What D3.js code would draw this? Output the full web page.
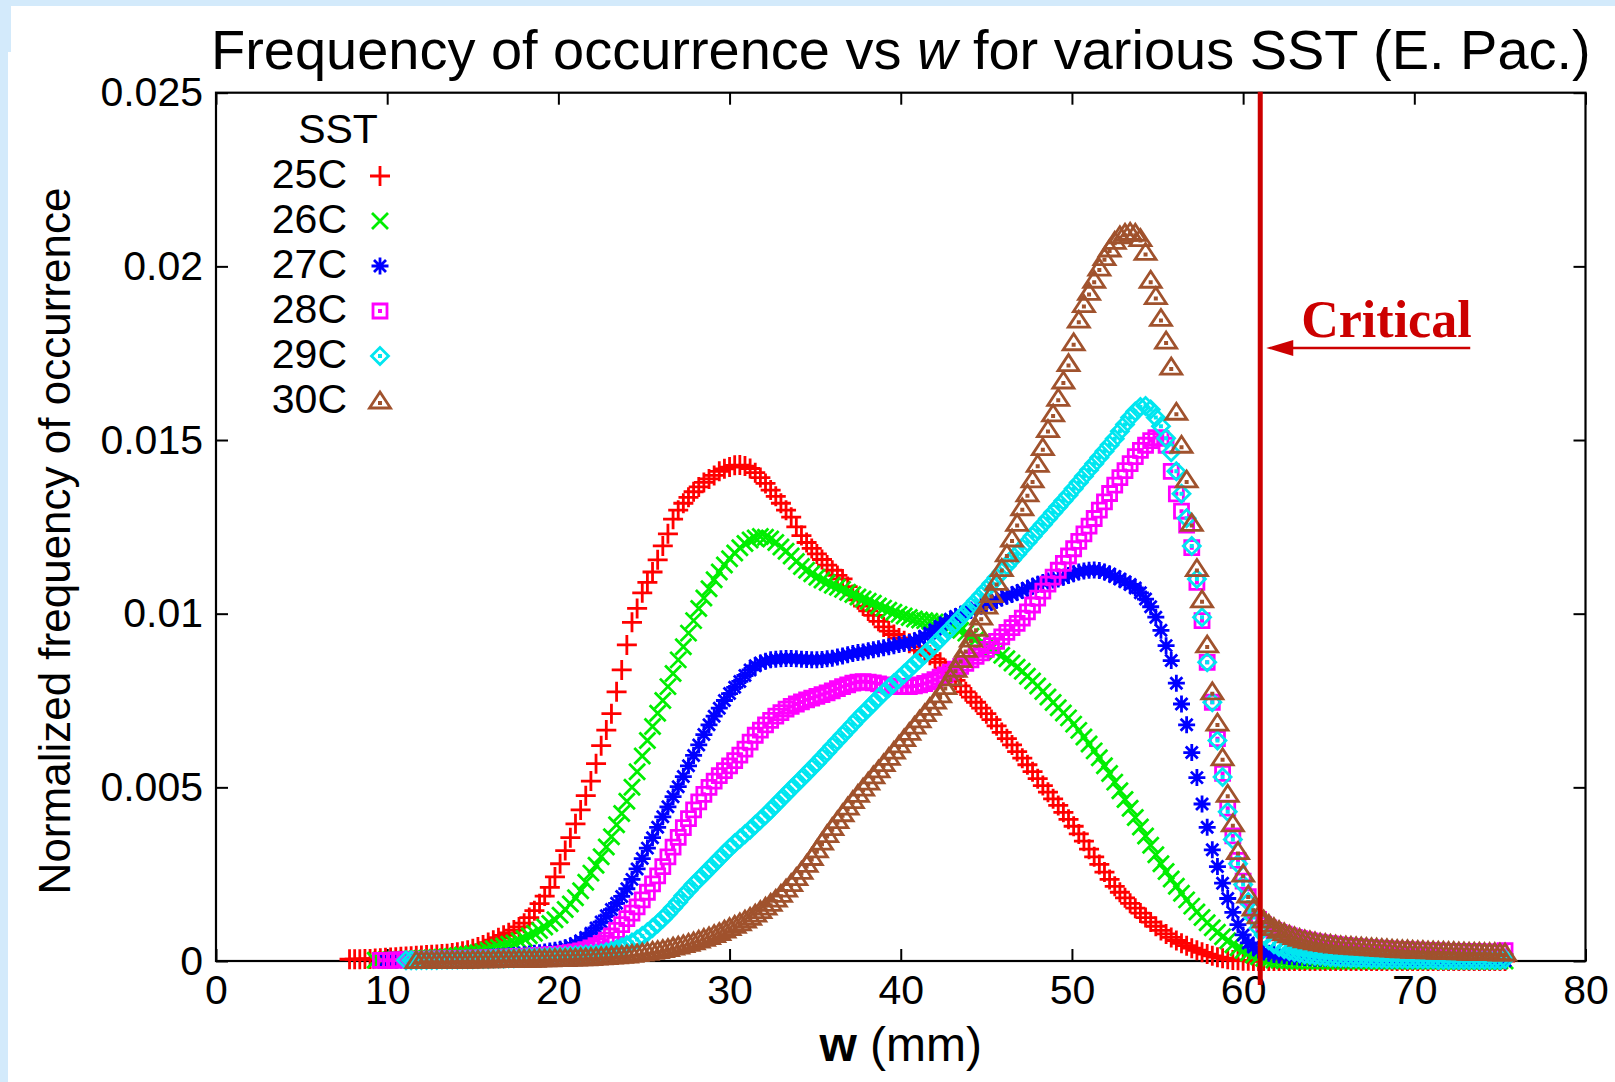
<!DOCTYPE html>
<html><head><meta charset="utf-8">
<script src="https://cdn.jsdelivr.net/npm/d3@7"></script>
<style>body{margin:0;background:#fff;overflow:hidden} svg{display:block}</style>
</head><body><svg id="chart" width="1615" height="1082"></svg>
<script>
// ---- data (w bins start at 7.8 mm, 0.3 mm wide; values in units of 0.001) ----
const binStart = 7.8, binWidth = 0.3;
const seriesNames = ["25C","26C","27C","28C","29C","30C"];
const seriesColors = ["#ff0000","#00ee00","#0000ff","#ff00ff","#00e6f0","#a0522d"];
const seriesMarkers = ["plus","cross","star","box","diamond","triangle"];

const sst25 = [
0.05,0.05,0.05,0.06,0.06,0.07,0.08,0.09,0.10,0.11,
0.12,0.13,0.14,0.15,0.16,0.17,0.18,0.19,0.20,0.21,
0.23,0.25,0.28,0.31,0.35,0.40,0.46,0.53,0.60,0.67,
0.74,0.81,0.89,0.98,1.09,1.25,1.45,1.65,1.87,2.12,
2.42,2.80,3.18,3.55,3.95,4.35,4.76,5.18,5.68,6.20,
6.65,7.12,7.75,8.38,9.10,9.75,10.15,10.60,10.90,11.20,
11.55,11.95,12.30,12.72,12.98,13.18,13.35,13.51,13.65,13.78,
13.88,13.98,14.10,14.17,14.22,14.27,14.28,14.25,14.18,14.06,
13.92,13.75,13.56,13.38,13.18,12.98,12.78,12.50,12.25,12.05,
11.88,11.72,11.56,11.40,11.25,11.10,11.00,10.78,10.55,10.40,
10.22,10.08,9.95,9.78,9.62,9.50,9.40,9.30,9.22,9.15,
9.05,8.95,8.88,8.80,8.70,8.60,8.42,8.25,8.08,7.92,
7.75,7.60,7.45,7.28,7.12,6.95,6.77,6.58,6.40,6.22,
6.03,5.84,5.65,5.45,5.25,5.05,4.86,4.67,4.48,4.28,
4.08,3.88,3.66,3.45,3.22,3.00,2.78,2.56,2.35,2.15,
1.98,1.82,1.66,1.52,1.38,1.25,1.12,1.00,0.88,0.78,
0.68,0.59,0.51,0.44,0.37,0.31,0.25,0.20,0.15,0.11,
0.08,0.05,0.03,0.02,0.01,0.01,0,0,0,0,
0,0,0,0,0,0,0,0,0,0,
0,0,0,0,0,0,0,0,0,0,
0,0,0,0,0,0,0,0,0,0,
0,0,0,0,0,0,0,0,0,0,
0,0,0,0,0,0];

const sst26 = [
null,null,null,null,null,0.02,0.02,0.03,0.03,0.04,
0.04,0.05,0.05,0.06,0.07,0.08,0.09,0.10,0.11,0.12,
0.13,0.15,0.17,0.19,0.21,0.24,0.27,0.31,0.35,0.39,
0.43,0.48,0.52,0.58,0.65,0.73,0.80,0.88,0.98,1.08,
1.19,1.32,1.48,1.64,1.82,2.02,2.27,2.53,2.76,3.00,
3.28,3.58,3.92,4.25,4.60,5.00,5.45,5.90,6.35,6.75,
7.13,7.50,7.90,8.28,8.67,9.05,9.44,9.80,10.15,10.45,
10.72,10.98,11.20,11.40,11.58,11.75,11.90,12.02,12.12,12.18,
12.22,12.20,12.15,12.05,11.92,11.80,11.66,11.50,11.36,11.25,
11.15,11.05,10.97,10.90,10.82,10.76,10.70,10.62,10.55,10.48,
10.42,10.36,10.30,10.22,10.16,10.10,10.04,9.98,9.93,9.89,
9.85,9.82,9.80,9.78,9.76,9.74,9.70,9.66,9.60,9.52,
9.44,9.35,9.26,9.17,9.08,9.00,8.90,8.80,8.70,8.58,
8.46,8.34,8.20,8.06,7.92,7.76,7.60,7.44,7.29,7.14,
7.00,6.82,6.64,6.45,6.25,6.05,5.85,5.62,5.40,5.15,
4.90,4.65,4.40,4.13,3.86,3.60,3.33,3.06,2.80,2.58,
2.36,2.15,1.95,1.76,1.58,1.41,1.25,1.10,0.96,0.83,
0.70,0.58,0.47,0.38,0.30,0.23,0.17,0.12,0.08,0.05,
0.03,0.02,0.01,0.01,0,0,0,0,0,0,
0,0,0,0,0,0,0,0,0,0,
0,0,0,0,0,0,0,0,0,0,
0,0,0,0,0,0,0,0,0,0,
0,0,0,0,0,0];

const sst27 = [
null,null,null,null,null,null,null,0.02,0.02,0.02,
0.03,0.03,0.03,0.04,0.04,0.05,0.05,0.06,0.06,0.06,
0.06,0.07,0.07,0.08,0.08,0.09,0.10,0.11,0.12,0.13,
0.14,0.15,0.16,0.17,0.18,0.20,0.22,0.24,0.26,0.29,
0.31,0.34,0.38,0.43,0.50,0.58,0.68,0.80,0.95,1.12,
1.30,1.48,1.66,1.86,2.08,2.35,2.65,2.95,3.25,3.55,
3.85,4.15,4.44,4.73,5.02,5.31,5.62,5.92,6.22,6.52,
6.80,7.05,7.28,7.50,7.70,7.88,8.05,8.22,8.38,8.50,
8.58,8.63,8.67,8.69,8.70,8.71,8.71,8.70,8.69,8.68,
8.67,8.67,8.68,8.70,8.72,8.75,8.78,8.82,8.85,8.88,
8.90,8.93,8.96,8.99,9.02,9.05,9.08,9.11,9.14,9.17,
9.22,9.28,9.35,9.44,9.54,9.64,9.74,9.84,9.92,9.98,
10.04,10.10,10.16,10.22,10.28,10.33,10.39,10.45,10.50,10.55,
10.61,10.67,10.73,10.79,10.85,10.90,10.94,10.97,11.00,11.05,
11.10,11.15,11.20,11.23,11.25,11.26,11.24,11.20,11.14,11.07,
11.00,10.92,10.84,10.74,10.60,10.42,10.20,9.90,9.52,9.08,
8.65,8.00,7.40,6.80,6.00,5.28,4.52,3.85,3.20,2.72,
2.24,1.80,1.40,1.05,0.75,0.52,0.40,0.32,0.26,0.22,
0.19,0.17,0.15,0.13,0.12,0.11,0.10,0.09,0.08,0.08,
0.07,0.07,0.06,0.06,0.05,0.05,0.05,0.04,0.04,0.04,
0.04,0.03,0.03,0.03,0.03,0.03,0.02,0.02,0.02,0.02,
0.02,0.02,0.02,0.02,0.02,0.01,0.01,0.01,0.01,0.01,
0.01,0.01,0.01,0.01,0.01,0.01];

const sst28 = [
null,null,null,null,null,null,0.02,0.02,0.02,0.03,
0.03,0.03,0.03,0.04,0.04,0.04,0.05,0.05,0.05,0.06,
0.06,0.06,0.07,0.07,0.08,0.08,0.09,0.09,0.10,0.10,
0.11,0.11,0.12,0.13,0.13,0.14,0.15,0.16,0.17,0.18,
0.19,0.20,0.22,0.24,0.26,0.29,0.33,0.38,0.44,0.51,
0.60,0.72,0.88,1.05,1.22,1.38,1.56,1.76,1.98,2.22,
2.45,2.72,3.00,3.28,3.56,3.84,4.10,4.35,4.58,4.80,
5.00,5.18,5.34,5.48,5.62,5.77,5.93,6.10,6.30,6.50,
6.65,6.80,6.93,7.05,7.15,7.25,7.33,7.40,7.46,7.52,
7.57,7.62,7.67,7.72,7.78,7.84,7.90,7.95,8.00,8.03,
8.04,8.03,8.01,7.98,7.95,7.92,7.90,7.90,7.90,7.90,
7.92,7.95,7.99,8.04,8.10,8.17,8.24,8.32,8.40,8.48,
8.57,8.67,8.77,8.87,8.97,9.08,9.20,9.33,9.46,9.60,
9.72,9.87,10.05,10.25,10.45,10.65,10.85,11.05,11.25,11.45,
11.66,11.87,12.08,12.30,12.52,12.74,12.98,13.22,13.46,13.70,
13.92,14.12,14.32,14.52,14.70,14.85,14.98,15.07,15.05,14.85,
14.10,13.45,12.95,12.55,11.90,10.90,9.80,8.60,7.45,6.40,
5.40,4.40,3.60,2.90,2.30,1.85,1.45,1.20,1.05,0.95,
0.88,0.82,0.77,0.72,0.68,0.64,0.61,0.58,0.55,0.53,
0.51,0.49,0.47,0.45,0.44,0.42,0.41,0.40,0.39,0.38,
0.37,0.36,0.35,0.34,0.33,0.33,0.32,0.31,0.31,0.30,
0.30,0.29,0.29,0.28,0.28,0.27,0.27,0.27,0.26,0.26,
0.26,0.26,0.25,0.25,0.26,0.30];

const sst29 = [
null,null,null,null,null,null,null,null,null,null,
null,0.02,0.02,0.02,0.03,0.03,0.03,0.03,0.04,0.04,
0.04,0.04,0.05,0.05,0.05,0.06,0.06,0.06,0.07,0.07,
0.07,0.08,0.08,0.09,0.09,0.10,0.10,0.11,0.11,0.12,
0.12,0.13,0.14,0.15,0.16,0.17,0.18,0.19,0.20,0.22,
0.25,0.29,0.34,0.40,0.46,0.53,0.62,0.72,0.83,0.95,
1.08,1.22,1.37,1.53,1.70,1.88,2.04,2.20,2.35,2.50,
2.65,2.80,2.95,3.10,3.25,3.39,3.52,3.65,3.78,3.92,
4.06,4.20,4.35,4.50,4.65,4.80,4.95,5.10,5.25,5.40,
5.55,5.70,5.86,6.02,6.18,6.34,6.50,6.66,6.82,6.98,
7.13,7.28,7.43,7.58,7.72,7.86,8.00,8.13,8.27,8.41,
8.55,8.69,8.83,8.97,9.12,9.27,9.42,9.57,9.73,9.89,
10.05,10.21,10.37,10.53,10.70,10.87,11.04,11.21,11.38,11.55,
11.72,11.89,12.06,12.23,12.40,12.57,12.74,12.91,13.08,13.25,
13.42,13.60,13.78,13.96,14.14,14.32,14.50,14.68,14.86,15.04,
15.25,15.45,15.65,15.82,15.95,15.98,15.88,15.65,15.40,15.05,
14.65,14.10,13.45,12.75,11.95,11.00,9.90,8.60,7.45,6.35,
5.30,4.30,3.50,2.80,2.20,1.70,1.25,0.95,0.75,0.60,
0.48,0.40,0.34,0.29,0.25,0.22,0.19,0.17,0.15,0.14,
0.12,0.11,0.10,0.09,0.09,0.08,0.08,0.07,0.07,0.06,
0.06,0.06,0.05,0.05,0.05,0.05,0.04,0.04,0.04,0.04,
0.04,0.04,0.03,0.03,0.03,0.03,0.03,0.03,0.03,0.03,
0.03,0.03,0.03,0.03,0.03,0.05];

const sst30 = [
null,null,null,null,null,null,null,null,null,null,
null,null,null,0.01,0.01,0.01,0.01,0.01,0.02,0.02,
0.02,0.02,0.02,0.02,0.03,0.03,0.03,0.03,0.03,0.04,
0.04,0.04,0.04,0.05,0.05,0.05,0.05,0.06,0.06,0.06,
0.07,0.07,0.07,0.08,0.08,0.09,0.09,0.10,0.11,0.12,
0.13,0.14,0.15,0.16,0.17,0.19,0.21,0.23,0.25,0.28,
0.30,0.33,0.36,0.40,0.43,0.47,0.51,0.55,0.60,0.65,
0.70,0.76,0.82,0.89,0.96,1.03,1.10,1.18,1.26,1.35,
1.45,1.55,1.66,1.78,1.92,2.07,2.23,2.40,2.58,2.78,
2.98,3.20,3.42,3.64,3.84,4.04,4.24,4.43,4.62,4.80,
4.98,5.15,5.33,5.50,5.68,5.86,6.04,6.22,6.40,6.58,
6.76,6.94,7.12,7.30,7.48,7.66,7.90,8.15,8.40,8.68,
8.97,9.27,9.58,9.90,10.22,10.55,10.90,11.30,11.72,12.15,
12.60,13.05,13.45,13.85,14.30,14.78,15.30,15.75,16.20,16.70,
17.20,17.80,18.45,18.90,19.25,19.60,19.95,20.25,20.50,20.72,
20.88,20.95,20.98,20.95,20.80,20.40,19.60,19.13,18.50,17.85,
17.10,15.80,14.85,13.85,12.60,11.30,10.40,9.10,7.75,6.85,
5.85,4.80,3.95,3.15,2.50,1.90,1.52,1.30,1.18,1.06,
0.96,0.88,0.81,0.75,0.70,0.65,0.61,0.58,0.55,0.52,
0.50,0.48,0.46,0.44,0.43,0.42,0.41,0.40,0.39,0.38,
0.37,0.36,0.35,0.34,0.33,0.32,0.32,0.31,0.30,0.30,
0.29,0.29,0.28,0.28,0.27,0.27,0.26,0.26,0.25,0.25,
0.25,0.24,0.24,0.24,0.23,0.23];

const seriesValues = [sst25, sst26, sst27, sst28, sst29, sst30];

const xTickValues = [0,10,20,30,40,50,60,70,80];
const xTickLabels = ["0","10","20","30","40","50","60","70","80"];
const yTickValues = [0,5,10,15,20,25];            // units of 0.001
const yTickLabels = ["0","0.005","0.01","0.015","0.02","0.025"];
const criticalW = 61.0;

// ---- drawing ----
const svg = d3.select("#chart");
const FONT = "'Liberation Sans', Arial, Helvetica, sans-serif";
const M = {left: 216, right: 1585.5, top: 92.7, bottom: 961};

// slide background strips
svg.append("rect").attr("x",0).attr("y",0).attr("width",1615).attr("height",6).attr("fill","#d3eafb");
svg.append("rect").attr("x",0).attr("y",0).attr("width",11).attr("height",52).attr("fill","#d3eafb");
svg.append("rect").attr("x",0).attr("y",52).attr("width",8).attr("height",1030).attr("fill","#d3eafb");

const x = d3.scaleLinear().domain([0,80]).range([M.left, M.right]);
const y = d3.scaleLinear().domain([0,25]).range([M.bottom, M.top]);

function styleAxis(g){
  g.select(".domain").remove();
  g.selectAll(".tick line").attr("stroke","#000").attr("stroke-width",2);
  g.selectAll(".tick text").attr("font-family",FONT).attr("font-size",41).attr("fill","#000");
}
svg.append("g").attr("transform",`translate(0,${M.bottom})`)
  .call(d3.axisBottom(x).tickValues(xTickValues).tickFormat((d,i)=>xTickLabels[i]).tickSizeInner(-12).tickSizeOuter(0).tickPadding(14))
  .call(styleAxis);
svg.append("g").attr("transform",`translate(0,${M.top})`)
  .call(d3.axisTop(x).tickValues(xTickValues).tickFormat("").tickSizeInner(-12).tickSizeOuter(0))
  .call(styleAxis);
svg.append("g").attr("transform",`translate(${M.left},0)`)
  .call(d3.axisLeft(y).tickValues(yTickValues).tickFormat((d,i)=>yTickLabels[i]).tickSizeInner(-12).tickSizeOuter(0).tickPadding(13))
  .call(styleAxis);
svg.append("g").attr("transform",`translate(${M.right},0)`)
  .call(d3.axisRight(y).tickValues(yTickValues).tickFormat("").tickSizeInner(-12).tickSizeOuter(0))
  .call(styleAxis);

svg.append("rect").attr("x",M.left).attr("y",M.top).attr("width",M.right-M.left).attr("height",M.bottom-M.top)
  .attr("fill","none").attr("stroke","#000").attr("stroke-width",2.2);

// markers
const markerPaths = {
  plus: "M-10,0H10M0,-10V10",
  cross: "M-8,-8L8,8M-8,8L8,-8",
  star: "M-8.5,0H8.5M0,-8.5V8.5M-6,-6L6,6M-6,6L6,-6",
  box: "M-7,-7H7V7H-7Z M-0.6,-0.6h1.2v1.2h-1.2z",
  diamond: "M0,-8.5L8.5,0L0,8.5L-8.5,0Z M-0.6,-0.6h1.2v1.2h-1.2z",
  triangle: "M0,-9L10.5,7H-10.5Z M-0.6,1.4h1.2v1.2h-1.2z"
};
const MARK_W = 2.8;

seriesValues.forEach((vals, s) => {
  const pts = vals.map((v,i)=>({w: binStart + i*binWidth, v})).filter(d => d.v !== null);
  svg.append("g").selectAll("path").data(pts).join("path")
    .attr("d", markerPaths[seriesMarkers[s]])
    .attr("transform", d => `translate(${x(d.w).toFixed(2)},${y(d.v).toFixed(2)})`)
    .attr("fill","none").attr("stroke",seriesColors[s]).attr("stroke-width",MARK_W);
});

// legend
svg.append("text").attr("x",338).attr("y",143).attr("text-anchor","middle")
  .attr("font-family",FONT).attr("font-size",41).text("SST");
const leg = svg.append("g").selectAll("g").data(seriesNames).join("g")
  .attr("transform",(d,i)=>`translate(0,${188 + i*45})`);
leg.append("text").attr("x",347).attr("y",0).attr("text-anchor","end")
  .attr("font-family",FONT).attr("font-size",41).text(d=>d);
leg.append("path").attr("transform","translate(380,-12)")
  .attr("d",(d,i)=>markerPaths[seriesMarkers[i]])
  .attr("fill","none").attr("stroke",(d,i)=>seriesColors[i]).attr("stroke-width",MARK_W);

// critical line + annotation
const cx = x(criticalW);
svg.append("line").attr("x1",cx).attr("x2",cx).attr("y1",M.top-1).attr("y2",985)
  .attr("stroke","#cc0000").attr("stroke-width",5);
svg.append("text").attr("x",cx+41).attr("y",337)
  .attr("font-family","'Liberation Serif','Times New Roman',serif").attr("font-weight","bold")
  .attr("font-size",52).attr("fill","#cc0000").text("Critical");
svg.append("line").attr("x1",cx+28).attr("x2",cx+210).attr("y1",348).attr("y2",348)
  .attr("stroke","#cc0000").attr("stroke-width",2.5);
svg.append("path").attr("d",`M${cx+6},348L${cx+33},340L${cx+33},356Z`).attr("fill","#cc0000");

// title
const title = svg.append("text").attr("x",211).attr("y",69)
  .attr("font-family",FONT).attr("font-size",52).attr("fill","#000");
title.append("tspan").text("Frequency of occurrence vs ");
title.append("tspan").attr("font-style","italic").text("w");
title.append("tspan").text(" for various SST (E. Pac.)");
const tl = title.node().getComputedTextLength();
title.attr("font-size", 52 * 1380 / tl);

// axis titles
const xl = svg.append("text").attr("x",(M.left+M.right)/2).attr("y",1061).attr("text-anchor","middle")
  .attr("font-family",FONT).attr("font-size",48);
xl.append("tspan").attr("font-weight","bold").text("w");
xl.append("tspan").text(" (mm)");

svg.append("text").attr("transform","translate(70,541) rotate(-90)").attr("text-anchor","middle")
  .attr("font-family",FONT).attr("font-size",44).text("Normalized frequency of occurrence");
</script>
</body></html>
